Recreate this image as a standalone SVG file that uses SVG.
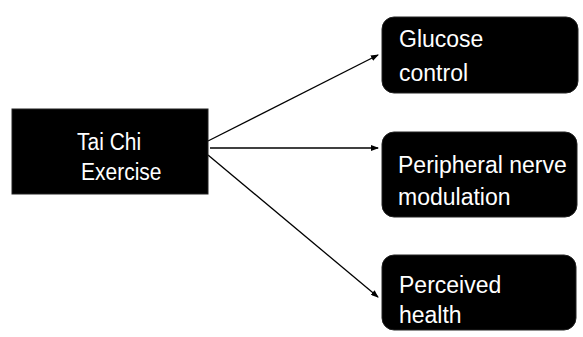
<svg xmlns="http://www.w3.org/2000/svg" width="583" height="337" viewBox="0 0 583 337">
<defs>
<style>
.box{fill:#000;stroke:#222;stroke-width:1}
.t{fill:#fff;font-family:"Liberation Sans",Arial,sans-serif;font-size:23px}
.c{stroke:#000;stroke-width:1.3;fill:none;marker-end:url(#ah)}
</style>
<marker id="ah" markerWidth="8" markerHeight="6" refX="7" refY="3" orient="auto" markerUnits="userSpaceOnUse">
<path d="M0,0 L8,3 L0,6 Z" fill="#000"/>
</marker>
</defs>
<rect width="583" height="337" fill="#fff"/>
<g id="connectors">
<path class="c" d="M208,141 L378,55"/>
<path class="c" d="M210,148 L378,148"/>
<path class="c" d="M208,155 L378,297"/>
</g>
<g id="tai-chi">
<rect class="box" x="12" y="109" width="196" height="85"/>
<text class="t" x="77" y="150" style="font-size:21px" transform="translate(0,-15) scale(1,1.1)">Tai Chi</text>
<text class="t" x="81" y="180" style="font-size:21px" transform="translate(0,-18) scale(1,1.1)">Exercise</text>
</g>
<g id="glucose">
<rect class="box" x="382" y="17" width="196" height="76" rx="12"/>
<text class="t" x="399" y="47">Glucose</text>
<text class="t" x="399" y="81">control</text>
</g>
<g id="peripheral">
<rect class="box" x="382" y="132" width="195" height="85" rx="12"/>
<text class="t" x="398" y="173">Peripheral nerve</text>
<text class="t" x="398" y="205">modulation</text>
</g>
<g id="perceived">
<rect class="box" x="382" y="255" width="194" height="75" rx="12"/>
<text class="t" x="399" y="293">Perceived</text>
<text class="t" x="399" y="323">health</text>
</g>
</svg>
